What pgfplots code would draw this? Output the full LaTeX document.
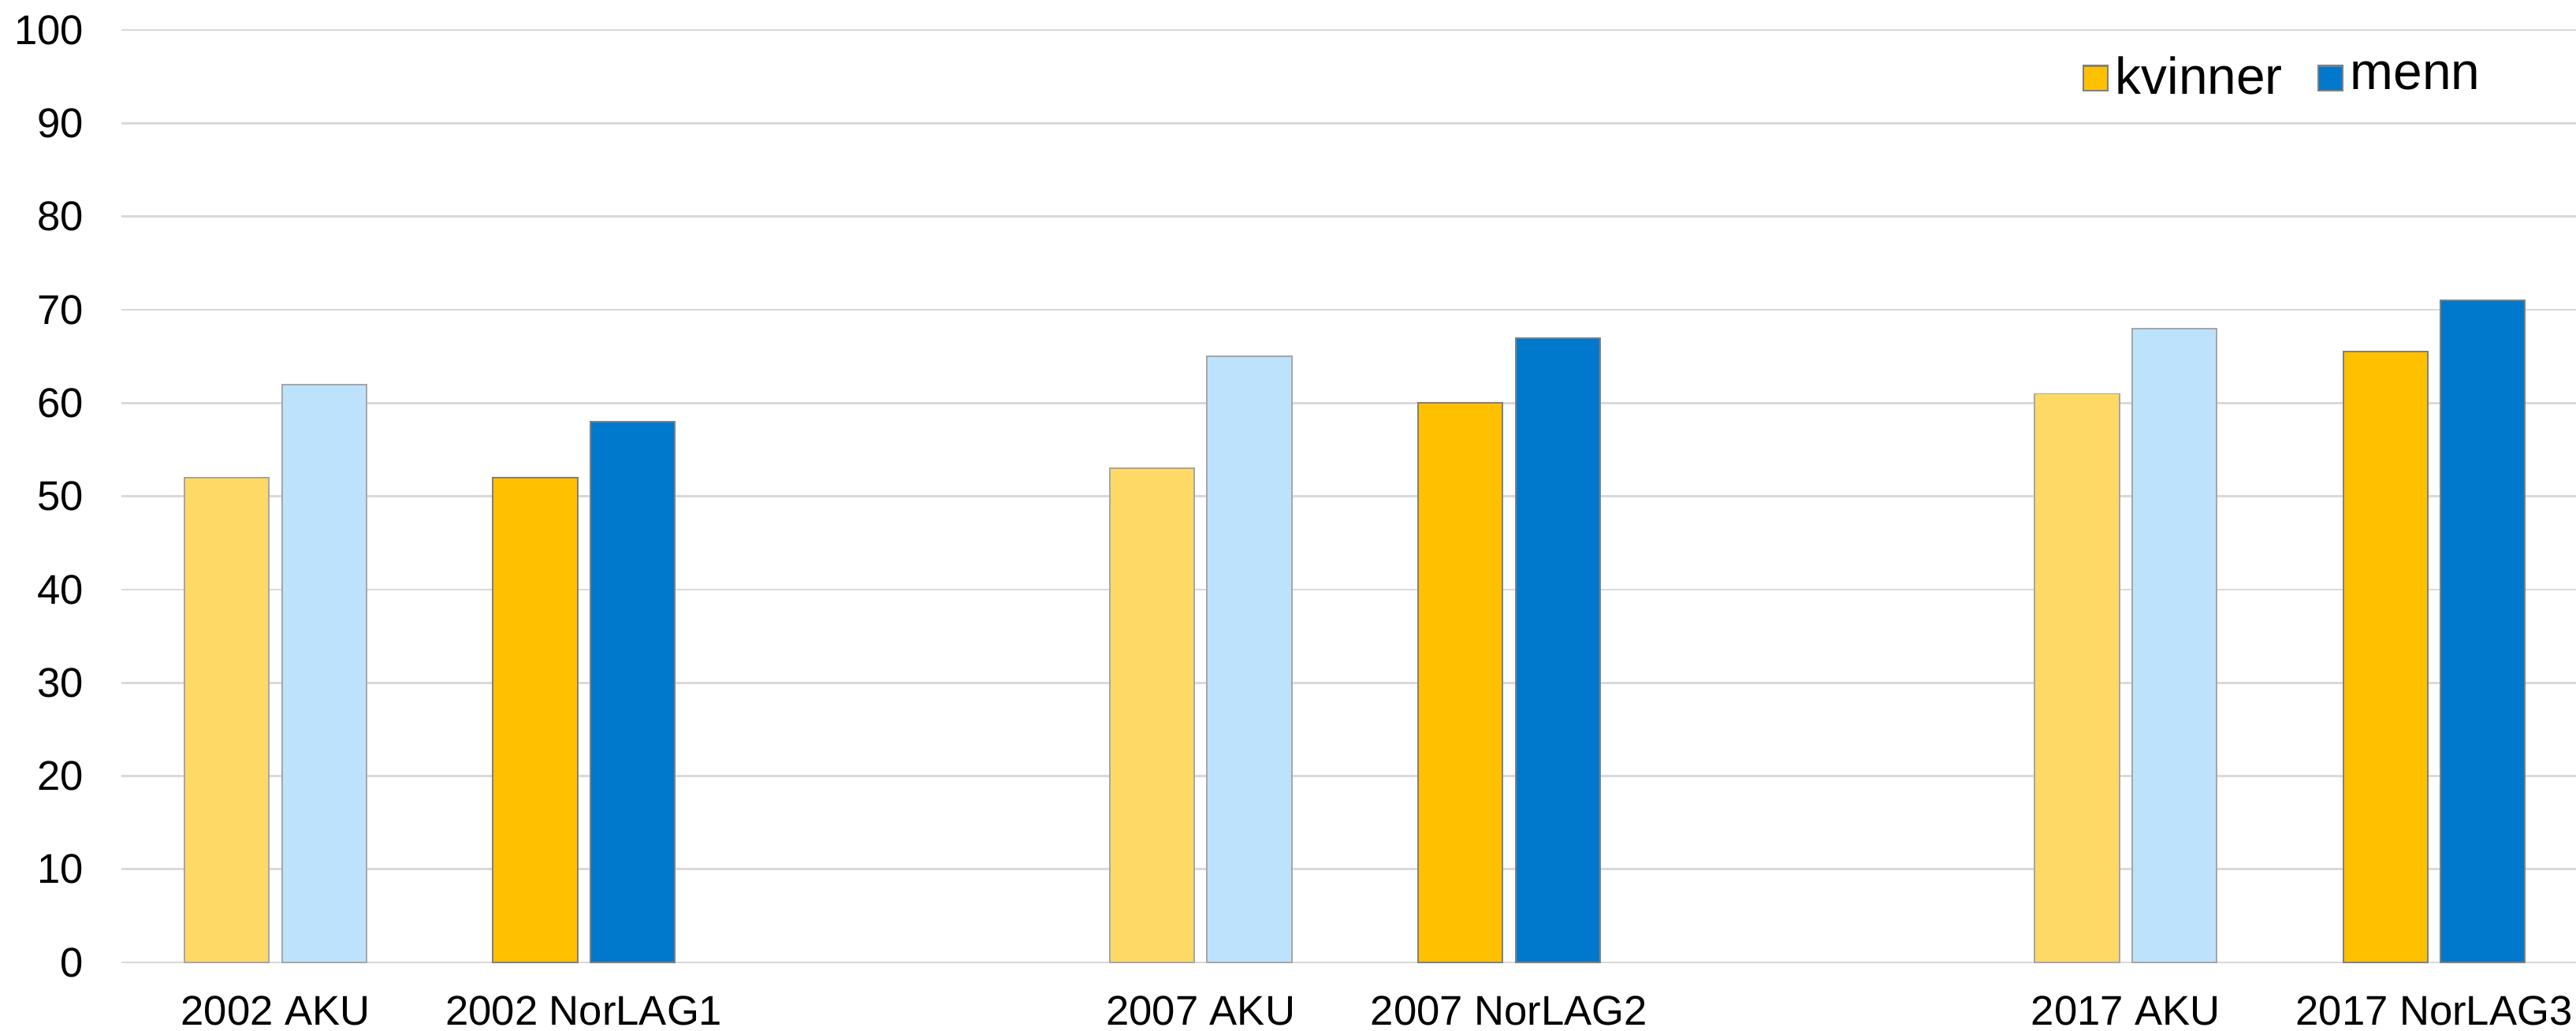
\documentclass[border=0pt]{standalone}
\usepackage{fontspec}
\setmainfont{Liberation Sans}
\usepackage{pgfplots}
\pgfplotsset{compat=1.18}
\definecolor{akuK}{HTML}{FFD966}
\definecolor{akuM}{HTML}{BDE3FC}
\definecolor{norK}{HTML}{FFC000}
\definecolor{norM}{HTML}{0078CC}
\definecolor{gridc}{HTML}{D9D9D9}
\definecolor{edgeL}{HTML}{A6A6A6}
\definecolor{edgeD}{HTML}{808080}
\begin{document}
\begin{tikzpicture}
\begin{axis}[
  at={(0,0)}, anchor=south west,
  scale only axis, width=710pt, height=269.7pt,
  xmin=-0.5, xmax=7.46, ymin=0, ymax=100,
  ytick={0,10,...,100},
  xtick={0,1,3,4,6,7},
  xticklabels={2002 AKU, 2002 NorLAG1, 2007 AKU, 2007 NorLAG2, 2017 AKU, 2017 NorLAG3},
  major tick length=0pt,
  ymajorgrids, grid style={gridc, line width=0.6pt},
  axis line style={draw=none},
  tick label style={font=\fontsize{12}{14}\selectfont},
  /pgf/number format/assume math mode=true,
  yticklabel style={inner sep=0pt, xshift=-10.7pt},
  xticklabel style={inner sep=0pt, yshift=-9.5pt, anchor=north},
  ybar, bar width=0.274,
  legend columns=2,
  legend style={draw=none, fill=none, at={(0.964,0.9485)}, anchor=east,
    font=\fontsize{15}{18}\selectfont, inner sep=0pt,
    /tikz/every even column/.append style={column sep=8pt}},
  legend image code/.code={\draw[#1, line width=0.5pt] (0pt,-3.55pt) rectangle (7.1pt,3.55pt);},
]
\addplot[ybar, fill=akuK, draw=edgeL, line width=0.45pt, bar shift=-0.158, forget plot]
  coordinates {(0,52) (3,53) (6,61)};
\addplot[ybar, fill=akuM, draw=edgeL, line width=0.45pt, bar shift=0.158, forget plot]
  coordinates {(0,62) (3,65) (6,68)};
\addplot[ybar, fill=norK, draw=edgeD, line width=0.45pt, bar shift=-0.158]
  coordinates {(1,52) (4,60) (7,65.5)};
\addlegendentry{kvinner}
\addplot[ybar, fill=norM, draw=edgeD, line width=0.45pt, bar shift=0.158]
  coordinates {(1,58) (4,67) (7,71)};
\addlegendentry{menn}
\end{axis}
\pgfresetboundingbox
\path (-35.1pt,-19.6pt) rectangle (710pt,278.4pt);
\end{tikzpicture}
\end{document}
